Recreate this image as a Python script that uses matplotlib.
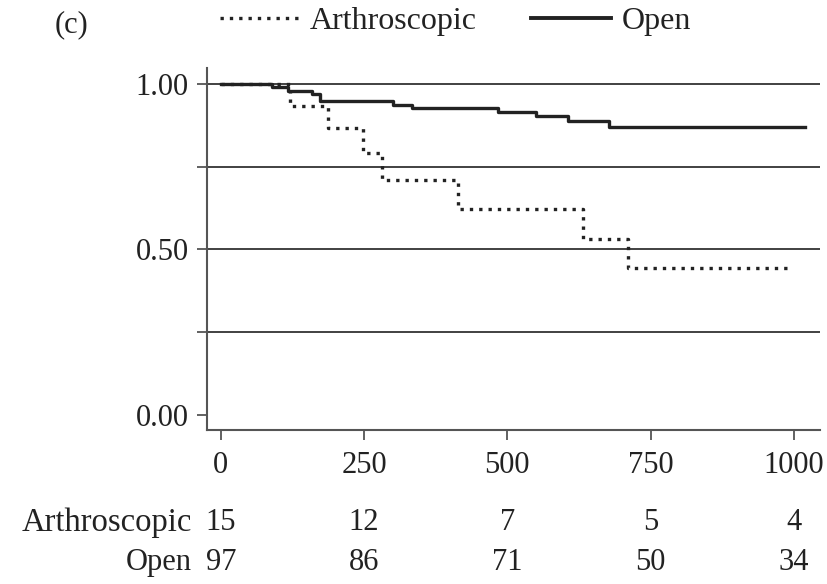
import matplotlib.pyplot as plt
from matplotlib.lines import Line2D
from matplotlib.transforms import blended_transform_factory

plt.rcParams['font.family'] = ['Liberation Serif', 'DejaVu Serif']

# Kaplan-Meier curves (days, survival)
arth_t = [0, 120, 187, 248, 281, 414, 632, 710, 998]
arth_s = [1.0, 0.933, 0.867, 0.79, 0.709, 0.622, 0.533, 0.444, 0.444]
open_t = [0, 89, 117, 159, 173, 300, 333, 484, 550, 606, 677, 1019]
open_s = [1.0, 0.99, 0.979, 0.968, 0.948, 0.937, 0.927, 0.915, 0.902, 0.888, 0.870, 0.870]

# number at risk table
risk_times = [0, 250, 500, 750, 1000]
arth_risk = [15, 12, 7, 5, 4]
open_risk = [97, 86, 71, 50, 34]

fig = plt.figure(figsize=(8.28, 5.84), dpi=100)
ax = fig.add_axes([0.25, 0.2637, 0.74, 0.62])

fs = 22
dotted = (0, (1, 1.8))
ax.step(arth_t, arth_s, where='post', color='#222222', lw=2.4, linestyle=dotted)
ax.step(open_t, open_s, where='post', color='#222222', lw=2.4)

ax.set_xlim(-24, 1045)
ax.set_ylim(-0.045, 1.048)
ax.set_xticks(risk_times)
ax.set_yticks([0, 0.25, 0.5, 0.75, 1.0])
ax.set_yticklabels(['0.00', '', '0.50', '', '1.00'])
for g in [0.25, 0.5, 0.75, 1.0]:
    ax.axhline(g, color='#333333', lw=1.3, zorder=0)

for s in ['top', 'right']:
    ax.spines[s].set_visible(False)
for s in ['left', 'bottom']:
    ax.spines[s].set_color('#555555')
    ax.spines[s].set_linewidth(1.5)
ax.tick_params(axis='both', labelsize=fs, length=7, width=1.3, color='#555555',
               labelcolor='#222222')
ax.tick_params(axis='y', pad=6)
ax.tick_params(axis='x', pad=8)

# number at risk rows
tr = blended_transform_factory(ax.transData, fig.transFigure)
for x, a, o in zip(risk_times, arth_risk, open_risk):
    ax.text(x, 0.105, str(a), transform=tr, ha='center', va='center', fontsize=fs, color='#222222')
    ax.text(x, 0.036, str(o), transform=tr, ha='center', va='center', fontsize=fs, color='#222222')
fig.text(0.232, 0.105, 'Arthroscopic', ha='right', va='center', fontsize=23.5, color='#222222')
fig.text(0.232, 0.036, 'Open', ha='right', va='center', fontsize=fs, color='#222222')

# header
fig.text(0.086, 0.957, '(c)', ha='center', va='center', fontsize=fs, color='#222222')
handles = [Line2D([], [], color='#222222', lw=2.4, linestyle=dotted),
           Line2D([], [], color='#222222', lw=2.8)]
fig.legend(handles, ['Arthroscopic', 'Open'], loc='center', bbox_to_anchor=(0.55, 0.963),
           ncol=2, frameon=False, fontsize=23, handlelength=2.5, handletextpad=0.33,
           columnspacing=1.7, labelcolor='#222222', borderpad=0, borderaxespad=0)

fig.savefig('out.png', dpi=100)
